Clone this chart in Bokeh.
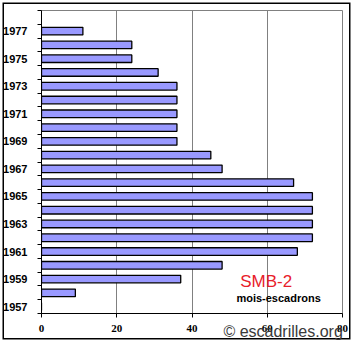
from bokeh.plotting import figure
from bokeh.models import Range1d, FixedTicker, Label, ColumnDataSource
from bokeh.embed import file_html
from bokeh.resources import INLINE

years = list(range(1957, 1978))
values = [0, 9, 37, 48, 68, 72, 72, 72, 72, 67, 48, 45, 36, 36, 36, 36, 36, 31, 24, 24, 11]
x_ticks = [0, 20, 40, 60, 80]
y_label_years = list(range(1957, 1978, 2))
title_text = "SMB-2"
unit_text = "mois-escadrons"
watermark_text = "\u00a9 escadrilles.org"

src = ColumnDataSource(dict(y=years, v=values))

p = figure(width=353, height=342, output_backend="svg", toolbar_location=None,
           x_range=Range1d(0, 80), y_range=Range1d(1956.5, 1978.5),
           min_border_left=39, min_border_right=11, min_border_top=10, min_border_bottom=29)
p.background_fill_color = "white"
p.border_fill_color = None
p.outline_line_color = "#808080"
p.outline_line_width = 1
p.styles = {"box-shadow": "inset 0 0 0 2.5px white, inset 0 0 0 4px black",
            "background-color": "white"}

p.hbar(y="y", right="v", left=0, height=0.55, source=src,
       fill_color="#9999FF", line_color="black", line_width=1.3)

p.xaxis.ticker = FixedTicker(ticks=x_ticks)
p.xaxis.axis_line_color = "black"
p.xaxis.major_tick_line_color = "black"
p.xaxis.major_tick_out = 4
p.xaxis.major_tick_in = 0
p.xaxis.minor_tick_line_color = None
p.xaxis.major_label_text_font = "Liberation Serif"
p.xaxis.major_label_text_font_style = "bold"
p.xaxis.major_label_text_font_size = "11px"
p.xaxis.major_label_text_color = "black"
p.xaxis.major_label_standoff = 7
# watermark shown as the (centred) axis label, pushed right with no-break spaces
p.xaxis.axis_label = "\u00a0" * 41 + watermark_text
p.xaxis.axis_label_standoff = -12
p.xaxis.axis_label_text_font = "Liberation Sans"
p.xaxis.axis_label_text_font_style = "normal"
p.xaxis.axis_label_text_font_size = "16px"
p.xaxis.axis_label_text_color = "#3a3a3a"

boundaries = [y - 0.5 for y in range(1957, 1980)]
p.yaxis.ticker = FixedTicker(ticks=y_label_years, minor_ticks=boundaries)
p.yaxis.axis_line_color = "black"
p.yaxis.major_tick_line_color = None
p.yaxis.minor_tick_line_color = "black"
p.yaxis.minor_tick_out = 4
p.yaxis.minor_tick_in = 0
p.yaxis.major_label_text_font = "Liberation Sans"
p.yaxis.major_label_text_font_style = "bold"
p.yaxis.major_label_text_font_size = "11px"
p.yaxis.major_label_text_color = "black"
p.yaxis.major_label_standoff = 8

p.xgrid.ticker = FixedTicker(ticks=[20, 40, 60])
p.xgrid.grid_line_color = "#808080"
p.xgrid.grid_line_width = 1
p.ygrid.grid_line_color = None

p.add_layout(Label(x=52.8, y=1958.8, text=title_text, text_font="Liberation Sans",
                   text_font_size="17px", text_color="#E8202A", text_baseline="alphabetic"))
p.add_layout(Label(x=51.8, y=1957.66, text=unit_text, text_font="Liberation Sans",
                   text_font_style="bold", text_font_size="11px", text_color="black",
                   text_baseline="middle"))

open("out.html", "w").write(file_html(p, INLINE))
